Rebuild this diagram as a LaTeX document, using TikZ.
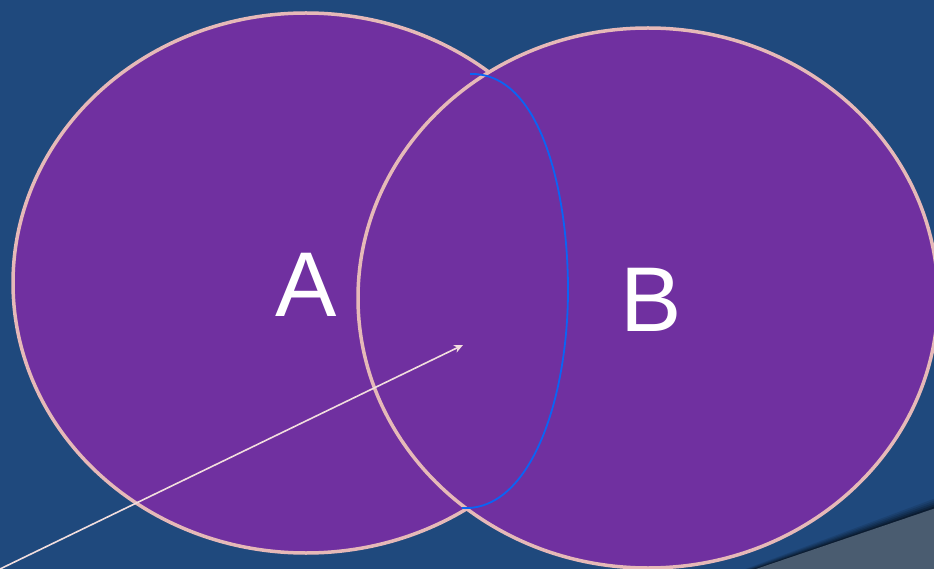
\documentclass[tikz,border=0pt]{standalone}
\usepackage{fontspec}
\setmainfont{Liberation Sans}
\usetikzlibrary{arrows.meta}
\definecolor{bgblue}{RGB}{31,73,125}
\definecolor{vpurple}{RGB}{112,48,160}
\definecolor{vpink}{RGB}{230,185,184}
\definecolor{arcblue}{RGB}{10,100,245}
\definecolor{slate}{RGB}{74,92,112}
\definecolor{arrowpink}{RGB}{242,222,222}
\tikzset{
  setshape/.style={fill=vpurple, draw=vpink, line width=3.5pt},
  setlabel/.style={text=white, font=\fontsize{92}{92}\selectfont, inner sep=0pt},
  pointer/.style={draw=arrowpink, line width=1.6pt, -{Stealth[length=9pt,width=8pt]}},
}
\begin{document}
\begin{tikzpicture}[x=1pt,y=-1pt]
\useasboundingbox (0,0) rectangle (934,569);
\fill[bgblue] (0,0) rectangle (934,569);
% corner decoration with shadow
\begin{scope}
\clip (0,0) rectangle (934,569);
\foreach \o/\a in {10/0.10,8/0.12,6/0.15,4/0.2,2/0.25}{
  \fill[black,opacity=\a] (750-\o,571) -- (936,508-\o) -- (936,571) -- cycle;
}
\fill[slate] (750,571) -- (936,508) -- (936,571) -- cycle;
\end{scope}
% sets
\coordinate (A) at (306,283);
\coordinate (B) at (648,298);
\draw[setshape] (A) ellipse [x radius=293pt, y radius=270pt];
\begin{scope}
\clip (0,0) rectangle (934,569);
\draw[setshape] (B) ellipse [x radius=290pt, y radius=270pt];
\end{scope}
% intersection arc
\coordinate (top) at (470,74);
\coordinate (mid) at (568,290);
\coordinate (bot) at (462,508);
\draw[arcblue, line width=1.8pt] (top) .. controls (540,72) and (568,190) .. (mid)
  .. controls (568,400) and (530,512) .. (bot);
% labels
\node[setlabel] (la) at (306,285) {A};
\node[setlabel] (lb) at (651,300) {B};
% arrow
\coordinate (start) at (0,569);
\coordinate (tip) at (463,345);
\draw[pointer] (start) -- (tip);
\end{tikzpicture}
\end{document}
